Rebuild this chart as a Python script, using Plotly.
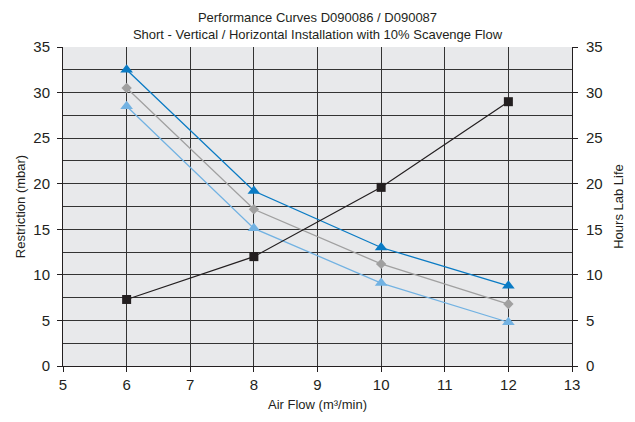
import plotly.graph_objects as go

air_flow = [6, 8, 10, 12]
restriction_high = [32.5, 19.2, 13.0, 8.8]
restriction_mid = [30.5, 17.2, 11.2, 6.8]
restriction_low = [28.5, 15.1, 9.1, 4.8]
hours_lab_life = [7.3, 12.0, 19.6, 29.0]

font_family = "Liberation Sans, Arial, sans-serif"
grid_color = "#333333"
ink = "#231f20"

fig = go.Figure()
fig.add_trace(go.Scatter(x=air_flow, y=restriction_low, mode="lines+markers",
                         line=dict(color="#72b2e2", width=1.3),
                         marker=dict(symbol="triangle-up", size=11, color="#72b2e2"),
                         name="Low"))
fig.add_trace(go.Scatter(x=air_flow, y=restriction_mid, mode="lines+markers",
                         line=dict(color="#a0a0a0", width=1.3),
                         marker=dict(symbol="diamond", size=8, color="#a0a0a0"),
                         name="Mid"))
fig.add_trace(go.Scatter(x=air_flow, y=restriction_high, mode="lines+markers",
                         line=dict(color="#0a7bc4", width=1.3),
                         marker=dict(symbol="triangle-up", size=11, color="#0a7bc4"),
                         name="High"))
fig.add_trace(go.Scatter(x=air_flow, y=hours_lab_life, mode="lines+markers",
                         line=dict(color=ink, width=1.2),
                         marker=dict(symbol="square", size=9, color=ink),
                         name="Hours", yaxis="y2"))

fig.update_layout(
    width=627, height=414,
    margin=dict(l=55, r=63, t=39, b=56, autoexpand=False),
    paper_bgcolor="white",
    plot_bgcolor="#e8e9eb",
    showlegend=False,
    font=dict(family=font_family, size=15, color=ink),
    title=dict(text="Performance Curves D090086 / D090087<br>Short - Vertical / Horizontal Installation with 10% Scavenge Flow",
               x=0.5, xanchor="center", xref="paper", yref="paper", y=1, yanchor="bottom",
               pad=dict(b=25),
               font=dict(family=font_family, size=13, color=ink)),
    xaxis=dict(range=[5, 13], dtick=1, tick0=5, showgrid=True, gridcolor=grid_color, gridwidth=1,
               ticks="outside", ticklen=5, tickcolor=ink, automargin=False,
               showline=True, linecolor=ink, linewidth=1, zeroline=False,
               title=dict(text="Air Flow (m³/min)", font=dict(family=font_family, size=13), standoff=7)),
    yaxis=dict(range=[0, 35], dtick=5, tick0=0, showgrid=True, gridcolor=grid_color, gridwidth=1,
               minor=dict(dtick=2.5, showgrid=True, gridcolor=grid_color, gridwidth=1, ticks=""),
               ticks="outside", ticklen=5, tickcolor=ink, automargin=False, ticklabelstandoff=4,
               showline=True, linecolor=ink, linewidth=1, zeroline=False,
               title=dict(text="Restriction (mbar)", font=dict(family=font_family, size=13), standoff=4)),
    yaxis2=dict(range=[0, 35], dtick=5, tick0=0, overlaying="y", side="right", showgrid=False,
                ticks="outside", ticklen=5, tickcolor=ink, automargin=False, ticklabelstandoff=5,
                showline=True, linecolor=ink, linewidth=1, zeroline=False,
                title=dict(text="Hours Lab Life", font=dict(family=font_family, size=13), standoff=12)),
)

fig.write_html("out.html")
